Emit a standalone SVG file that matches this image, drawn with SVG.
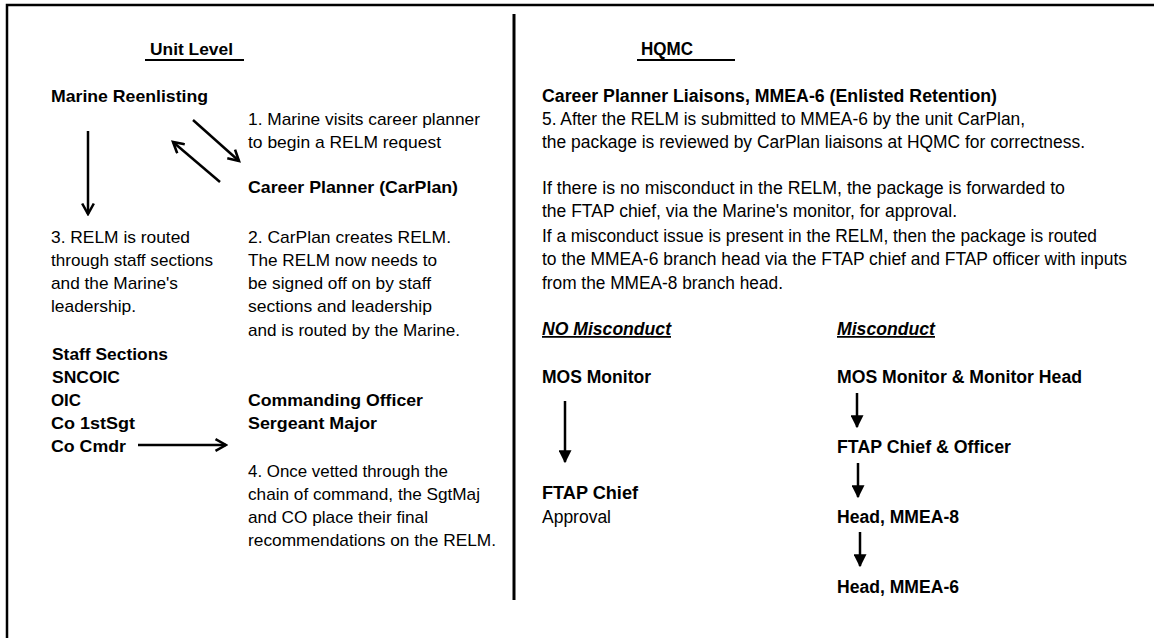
<svg xmlns="http://www.w3.org/2000/svg" width="1154" height="638" viewBox="0 0 1154 638">
<defs>
<style>
text{font-family:"Liberation Sans",Arial,sans-serif;fill:#000;}
.l{font-size:17px;}
.r{font-size:17.5px;}
.b{font-weight:bold;}
.i{font-style:italic;text-decoration:underline;}
.frame{stroke:#000;stroke-width:2.5;fill:none;}
.conn{stroke:#000;stroke-width:2.5;fill:none;}
</style>
<marker id="chev" viewBox="0 0 12 12" refX="10" refY="6" markerWidth="5.6" markerHeight="5.6" orient="auto" markerUnits="strokeWidth">
<path d="M1,1 L10,6 L1,11" fill="none" stroke="#000" stroke-width="2.2"/>
</marker>
<marker id="tri" viewBox="0 0 10 10" refX="9" refY="5" markerWidth="5.2" markerHeight="5.2" orient="auto" markerUnits="strokeWidth">
<path d="M0,0 L10,5 L0,10 z" fill="#000"/>
</marker>
</defs>
<rect width="1154" height="638" fill="#fff"/>
<g id="frame">
<path class="frame" d="M7,638 L7,5 L1154,5"/>
<line x1="514" y1="14" x2="514" y2="600" stroke="#000" stroke-width="3"/>
</g>
<g id="unit-level">
<text class="l b" x="150" y="55" textLength="83" lengthAdjust="spacingAndGlyphs">Unit Level</text>
<line x1="145" y1="60" x2="244" y2="60" stroke="#000" stroke-width="2"/>
</g>
<g id="hqmc">
<text class="r b" x="641" y="55" textLength="52" lengthAdjust="spacingAndGlyphs">HQMC</text>
<line x1="637" y1="60" x2="735" y2="60" stroke="#000" stroke-width="2"/>
</g>
<g id="marine-reenlisting">
<text class="l b" x="51" y="102" textLength="157" lengthAdjust="spacingAndGlyphs">Marine Reenlisting</text>
</g>
<g id="step1">
<text class="l" x="248" y="125" textLength="232" lengthAdjust="spacingAndGlyphs">1. Marine visits career planner</text>
<text class="l" x="248" y="148" textLength="193" lengthAdjust="spacingAndGlyphs">to begin a RELM request</text>
</g>
<g id="career-planner">
<text class="l b" x="248" y="193" textLength="210" lengthAdjust="spacingAndGlyphs">Career Planner (CarPlan)</text>
</g>
<g id="step3">
<text class="l" x="51" y="243" textLength="139" lengthAdjust="spacingAndGlyphs">3. RELM is routed</text>
<text class="l" x="51" y="266" textLength="162" lengthAdjust="spacingAndGlyphs">through staff sections</text>
<text class="l" x="51" y="289" textLength="127" lengthAdjust="spacingAndGlyphs">and the Marine's</text>
<text class="l" x="51" y="312" textLength="85" lengthAdjust="spacingAndGlyphs">leadership.</text>
</g>
<g id="step2">
<text class="l" x="248" y="243" textLength="203" lengthAdjust="spacingAndGlyphs">2. CarPlan creates RELM.</text>
<text class="l" x="248" y="266" textLength="189" lengthAdjust="spacingAndGlyphs">The RELM now needs to</text>
<text class="l" x="248" y="289" textLength="183" lengthAdjust="spacingAndGlyphs">be signed off on by staff</text>
<text class="l" x="248" y="312" textLength="184" lengthAdjust="spacingAndGlyphs">sections and leadership</text>
<text class="l" x="248" y="336" textLength="212" lengthAdjust="spacingAndGlyphs">and is routed by the Marine.</text>
</g>
<g id="staff-sections">
<text class="l b" x="52" y="360" textLength="116" lengthAdjust="spacingAndGlyphs">Staff Sections</text>
<text class="l b" x="52" y="383" textLength="68" lengthAdjust="spacingAndGlyphs">SNCOIC</text>
<text class="l b" x="51" y="406" textLength="30" lengthAdjust="spacingAndGlyphs">OIC</text>
<text class="l b" x="51" y="429" textLength="84" lengthAdjust="spacingAndGlyphs">Co 1stSgt</text>
<text class="l b" x="51" y="452" textLength="75" lengthAdjust="spacingAndGlyphs">Co Cmdr</text>
</g>
<g id="commanding-officer">
<text class="l b" x="248" y="406" textLength="175" lengthAdjust="spacingAndGlyphs">Commanding Officer</text>
<text class="l b" x="248" y="429" textLength="129" lengthAdjust="spacingAndGlyphs">Sergeant Major</text>
</g>
<g id="step4">
<text class="l" x="248" y="477" textLength="200" lengthAdjust="spacingAndGlyphs">4. Once vetted through the</text>
<text class="l" x="248" y="500" textLength="232" lengthAdjust="spacingAndGlyphs">chain of command, the SgtMaj</text>
<text class="l" x="248" y="523" textLength="180" lengthAdjust="spacingAndGlyphs">and CO place their final</text>
<text class="l" x="248" y="546" textLength="248" lengthAdjust="spacingAndGlyphs">recommendations on the RELM.</text>
</g>
<g id="liaisons">
<text class="r b" x="542" y="102" textLength="455" lengthAdjust="spacingAndGlyphs">Career Planner Liaisons, MMEA-6 (Enlisted Retention)</text>
<text class="r" x="542" y="125" textLength="483" lengthAdjust="spacingAndGlyphs">5. After the RELM is submitted to MMEA-6 by the unit CarPlan,</text>
<text class="r" x="542" y="148" textLength="543" lengthAdjust="spacingAndGlyphs">the package is reviewed by CarPlan liaisons at HQMC for correctness.</text>
</g>
<g id="routing-text">
<text class="r" x="542" y="194" textLength="523" lengthAdjust="spacingAndGlyphs">If there is no misconduct in the RELM, the package is forwarded to</text>
<text class="r" x="542" y="217" textLength="415" lengthAdjust="spacingAndGlyphs">the FTAP chief, via the Marine's monitor, for approval.</text>
<text class="r" x="542" y="242" textLength="555" lengthAdjust="spacingAndGlyphs">If a misconduct issue is present in the RELM, then the package is routed</text>
<text class="r" x="542" y="265" textLength="585" lengthAdjust="spacingAndGlyphs">to the MMEA-6 branch head via the FTAP chief and FTAP officer with inputs</text>
<text class="r" x="542" y="289" textLength="241" lengthAdjust="spacingAndGlyphs">from the MMEA-8 branch head.</text>
</g>
<g id="no-misconduct">
<text class="r b i" x="542" y="335" textLength="129" lengthAdjust="spacingAndGlyphs">NO Misconduct</text>
</g>
<g id="misconduct">
<text class="r b i" x="837" y="335" textLength="98" lengthAdjust="spacingAndGlyphs">Misconduct</text>
</g>
<g id="mos-monitor">
<text class="r b" x="542" y="383" textLength="109" lengthAdjust="spacingAndGlyphs">MOS Monitor</text>
</g>
<g id="mos-monitor-head">
<text class="r b" x="837" y="383" textLength="245" lengthAdjust="spacingAndGlyphs">MOS Monitor &amp; Monitor Head</text>
</g>
<g id="ftap-chief">
<text class="r b" x="542" y="499" textLength="96" lengthAdjust="spacingAndGlyphs">FTAP Chief</text>
<text class="r" x="542" y="523" textLength="69" lengthAdjust="spacingAndGlyphs">Approval</text>
</g>
<g id="ftap-chief-officer">
<text class="r b" x="837" y="453" textLength="174" lengthAdjust="spacingAndGlyphs">FTAP Chief &amp; Officer</text>
</g>
<g id="head-mmea8">
<text class="r b" x="837" y="523" textLength="122" lengthAdjust="spacingAndGlyphs">Head, MMEA-8</text>
</g>
<g id="head-mmea6">
<text class="r b" x="837" y="593" textLength="122" lengthAdjust="spacingAndGlyphs">Head, MMEA-6</text>
</g>
<g id="connectors">
<line class="conn" x1="193" y1="120" x2="239" y2="161" marker-end="url(#chev)"/>
<line class="conn" x1="220" y1="182" x2="173" y2="142" marker-end="url(#chev)"/>
<line class="conn" x1="88" y1="131" x2="88" y2="214" marker-end="url(#chev)"/>
<line class="conn" x1="138" y1="445" x2="226" y2="445" marker-end="url(#chev)"/>
<line class="conn" x1="565" y1="401" x2="565" y2="462" marker-end="url(#tri)"/>
<line class="conn" x1="857" y1="393" x2="857" y2="427" marker-end="url(#tri)"/>
<line class="conn" x1="858" y1="463" x2="858" y2="497" marker-end="url(#tri)"/>
<line class="conn" x1="860" y1="532" x2="860" y2="566" marker-end="url(#tri)"/>
</g>
</svg>
